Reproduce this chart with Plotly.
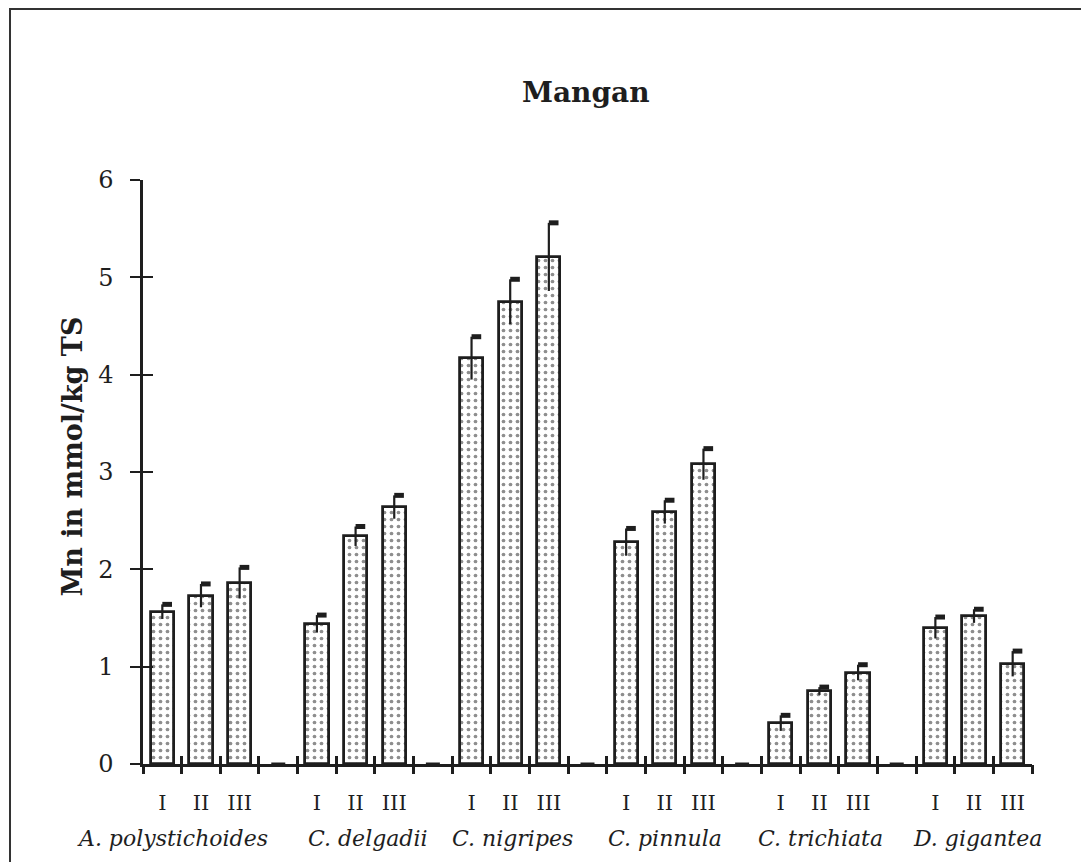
import plotly.graph_objects as go

# ---- data ----
species = ["A. polystichoides", "C. delgadii", "C. nigripes", "C. pinnula", "C. trichiata", "D. gigantea"]
samples = ["I", "II", "III"]
mn_I = [1.565, 1.44, 4.17, 2.28, 0.42, 1.40]
mn_II = [1.73, 2.34, 4.75, 2.59, 0.75, 1.52]
mn_III = [1.86, 2.64, 5.21, 3.08, 0.94, 1.03]
err_I = [0.075, 0.09, 0.22, 0.14, 0.08, 0.11]
err_II = [0.12, 0.10, 0.23, 0.12, 0.04, 0.07]
err_III = [0.16, 0.12, 0.35, 0.16, 0.08, 0.13]
y_ticks = [0, 1, 2, 3, 4, 5, 6]

ink = "#1e1e1e"
serif = "DejaVu Serif"
slot = len(samples) + 1          # 3 bars + 1 empty slot per species
n_slots = len(species) * slot - 1

series = [(samples[0], mn_I, err_I), (samples[1], mn_II, err_II), (samples[2], mn_III, err_III)]

fig = go.Figure()
bar_x, bar_txt = [], []
ex, ey, fx, fy = [], [], [], []
for si, (name, vals, errs) in enumerate(series):
    xs = [g * slot + si for g in range(len(species))]
    bar_x += xs
    bar_txt += [name] * len(xs)
    fig.add_trace(go.Bar(
        x=xs, y=vals, width=0.6, name=name, showlegend=False,
        marker=dict(color="white",
                    line=dict(color=ink, width=2.8),
                    pattern=dict(shape=".", fgcolor=ink, bgcolor="white", size=7, solidity=0.22)),
    ))
    for x, v, e in zip(xs, vals, errs):
        ex += [x, x, None]
        ey += [v - e, v + e, None]
        fx += [x, x + 0.25, None]
        fy += [v + e, v + e, None]

fig.add_trace(go.Scatter(x=ex, y=ey, mode="lines", line=dict(color=ink, width=2.2),
                         showlegend=False, hoverinfo="skip"))
fig.add_trace(go.Scatter(x=fx, y=fy, mode="lines", line=dict(color=ink, width=5),
                         showlegend=False, hoverinfo="skip"))

# small dashes at zero in the empty slots
gap_x = [g * slot + len(samples) for g in range(len(species) - 1)]
fig.add_trace(go.Scatter(x=gap_x, y=[0] * len(gap_x), mode="markers",
                         marker=dict(symbol="line-ew", size=10, line=dict(color=ink, width=3)),
                         showlegend=False, hoverinfo="skip"))

order = sorted(range(len(bar_x)), key=lambda i: bar_x[i])
tick_pos = [bar_x[i] for i in order]
tick_txt = [bar_txt[i] for i in order]
bounds = [b - 0.5 for b in range(n_slots + 1)]
xr = [-0.5, n_slots - 0.5]

# invisible helpers so that the overlaid tick axes get drawn
fig.add_trace(go.Scatter(x=[xr[0]], y=[0], xaxis="x2", yaxis="y2", mode="markers",
                         marker=dict(opacity=0), showlegend=False, hoverinfo="skip"))
fig.add_trace(go.Scatter(x=[xr[0]], y=[0], xaxis="x3", yaxis="y", mode="markers",
                         marker=dict(opacity=0), showlegend=False, hoverinfo="skip"))

# species names
label_shift = [-28, 12, 2, 0, 1, 3]
annotations = []
for g, sp in enumerate(species):
    annotations.append(dict(x=g * slot + 1, y=-0.127, xref="x", yref="paper",
                            text="<i>" + sp + "</i>", showarrow=False, xshift=label_shift[g],
                            yanchor="middle", font=dict(family=serif, size=22, color=ink)))
annotations.append(dict(x=-0.079, y=0.526, xref="paper", yref="paper",
                        xanchor="center", yanchor="middle",
                        text="<b>Mn in mmol/kg TS</b>", textangle=-90, showarrow=False,
                        font=dict(family=serif, size=27, color=ink)))

fig.update_layout(
    width=1081, height=854,
    margin=dict(l=135, r=57, t=172, b=98),
    paper_bgcolor="white", plot_bgcolor="white",
    bargap=0,
    title=dict(text="<b>Mangan</b>", x=0.498, xref="paper", y=1 - 84 / 854, yanchor="middle",
               xanchor="center", font=dict(family=serif, size=28, color=ink)),
    xaxis=dict(range=xr, tickvals=tick_pos, ticktext=tick_txt, ticks="",
               showline=True, linecolor=ink, linewidth=2.5, showgrid=False, zeroline=False,
               tickfont=dict(family=serif, size=21, color=ink), ticklabelstandoff=18),
    xaxis2=dict(range=xr, overlaying="x", anchor="y", side="bottom", tickvals=bounds,
                ticks="outside", ticklen=9, tickwidth=2.5, tickcolor=ink,
                showticklabels=False, showline=False, showgrid=False, zeroline=False),
    xaxis3=dict(range=xr, overlaying="x", anchor="y", side="bottom", tickvals=bounds,
                ticks="inside", ticklen=8, tickwidth=2.5, tickcolor=ink,
                showticklabels=False, showline=False, showgrid=False, zeroline=False),
    yaxis=dict(range=[0, 6], tickvals=y_ticks, ticks="outside", ticklen=10, tickwidth=2,
               tickcolor=ink, showline=True, linecolor=ink, linewidth=2.5, showgrid=False,
               zeroline=False, tickfont=dict(family=serif, size=24, color=ink), ticklabelstandoff=12),
    yaxis2=dict(range=[0, 6], overlaying="y", anchor="x", side="left", tickvals=y_ticks,
                ticks="inside", ticklen=10, tickwidth=2, tickcolor=ink,
                showticklabels=False, showline=False, showgrid=False, zeroline=False),
    annotations=annotations,
    shapes=[dict(type="rect", xref="paper", yref="paper",
                 x0=-0.1496, x1=1.0574, y0=-0.19, y1=1.2928,
                 line=dict(color="#333333", width=2), fillcolor="rgba(0,0,0,0)")],
)

fig.write_html("out.html")
